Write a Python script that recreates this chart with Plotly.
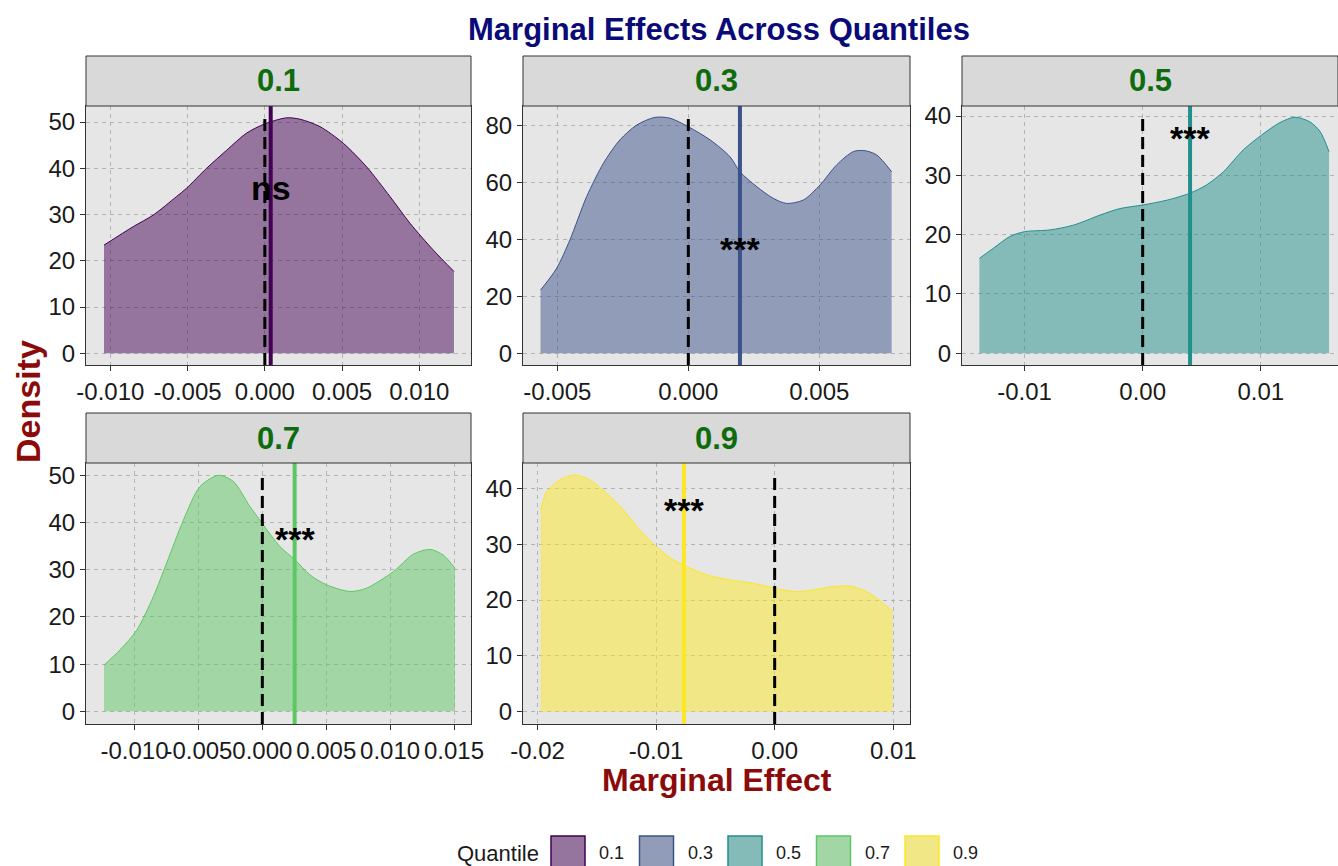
import plotly.graph_objects as go

W, H = 1338, 866
FONT = "Liberation Sans, Arial, sans-serif"

quantiles = ["0.1", "0.3", "0.5", "0.7", "0.9"]
colors = ["#440154", "#3B528B", "#21908C", "#5DC863", "#FDE725"]

# Kernel density estimates of the marginal effect, one per quantile
q01_x = [-0.01041, -0.00851, -0.00722, -0.00571, -0.00506, -0.00377, -0.00247, -0.00118, 0.0,
         0.00141, 0.00228, 0.00357, 0.00508, 0.00659, 0.00810, 0.00940, 0.01091, 0.01224]
q01_y = [23.4, 27.4, 29.9, 33.9, 35.7, 40.0, 43.9, 47.6, 49.6,
         50.9, 50.6, 49.0, 45.4, 40.3, 33.9, 28.1, 22.3, 17.7]

q03_x = [-0.00564, -0.00503, -0.00452, -0.00388, -0.00324, -0.00261, -0.00197, -0.00127, -0.00070,
         0.0, 0.00083, 0.00159, 0.00197, 0.00261, 0.00324, 0.00375, 0.00439, 0.00503, 0.00566,
         0.00630, 0.00674, 0.00719, 0.00776]
q03_y = [22.2, 29.8, 39.8, 55.0, 66.7, 74.9, 80.1, 82.8, 82.5,
         79.5, 74.9, 69.0, 63.7, 58.5, 54.4, 52.6, 53.8, 59.1, 66.1,
         70.8, 71.1, 69.6, 63.7]

q05_x = [-0.01382, -0.01264, -0.01123, -0.0100, -0.00784, -0.00587, -0.00361, -0.00192, 0.0,
         0.00203, 0.00401, 0.00542, 0.00683, 0.00852, 0.01007, 0.01162, 0.01289, 0.01416,
         0.01501, 0.01577]
q05_y = [16.0, 17.7, 19.7, 20.5, 20.8, 21.6, 23.3, 24.4, 25.0,
         25.8, 27.0, 28.4, 30.6, 34.3, 36.8, 38.9, 39.8, 39.0,
         37.4, 34.0]

q07_x = [-0.01239, -0.01114, -0.00983, -0.00853, -0.00749, -0.00618, -0.00488, -0.00344, -0.00227,
         -0.00097, 0.0, 0.00138, 0.00256, 0.00373, 0.00503, 0.00686, 0.00816, 0.01025, 0.01182,
         0.01312, 0.01416, 0.01508]
q07_y = [9.8, 13.0, 17.2, 24.3, 31.4, 40.5, 47.6, 50.0, 48.7,
         43.4, 39.8, 34.9, 32.1, 28.9, 26.8, 25.4, 26.1, 29.6, 33.3,
         34.3, 33.1, 30.3]

q09_x = [-0.01974, -0.01923, -0.01811, -0.01684, -0.01558, -0.01417, -0.01276, -0.01135, -0.01001,
         -0.00855, -0.00742, -0.00574, -0.00377, -0.00180, 0.0, 0.00186, 0.00326, 0.00495,
         0.00635, 0.00776, 0.00917, 0.00995]
q09_y = [36.1, 39.4, 41.5, 42.4, 41.5, 39.1, 36.1, 32.5, 29.6,
         27.2, 26.0, 24.5, 23.6, 23.0, 22.1, 21.5, 21.8, 22.4,
         22.5, 21.5, 19.4, 17.9]

density_x = [q01_x, q03_x, q05_x, q07_x, q09_x]
density_y = [q01_y, q03_y, q05_y, q07_y, q09_y]

# Mean marginal effect and its significance code
means = [0.00038, 0.00197, 0.00401, 0.00253, -0.00765]
sig_labels = ["ns", "***", "***", "***", "***"]
sig_label_y = [35.0, 37.4, 36.6, 37.0, 36.4]

# Axis ticks per facet
x_tickvals = [
    [-0.010, -0.005, 0.000, 0.005, 0.010],
    [-0.005, 0.000, 0.005],
    [-0.01, 0.00, 0.01],
    [-0.010, -0.005, 0.000, 0.005, 0.010, 0.015],
    [-0.02, -0.01, 0.00, 0.01],
]
x_decimals = [3, 3, 2, 3, 2]
y_tickvals = [
    [0, 10, 20, 30, 40, 50],
    [0, 20, 40, 60, 80],
    [0, 10, 20, 30, 40],
    [0, 10, 20, 30, 40, 50],
    [0, 10, 20, 30, 40],
]
x_ranges = [(-0.011575, 0.013344), (-0.006310, 0.008461), (-0.015289, 0.016529),
            (-0.013797, 0.016328), (-0.021225, 0.011413)]
y_ranges = [(-2.52, 53.46), (-4.09, 86.78), (-1.97, 41.69), (-2.68, 52.61), (-2.21, 44.54)]

# Facet panel boxes in pixels: left, right, top, bottom
panel_px = [(86, 471, 106, 365), (523, 910, 106, 365), (962, 1338, 106, 365),
            (86, 471, 463, 724), (523, 910, 463, 724)]
STRIP_H = 50

PANEL_BG = "#E6E6E6"
STRIP_BG = "#D9D9D9"
BORDER = "#333333"
GRID = "#B3B3B3"
TICK_FONT = dict(family=FONT, size=24, color="#1A1A1A")


def rgba(hex_color, a):
    h = hex_color.lstrip("#")
    r, g, b = int(h[0:2], 16), int(h[2:4], 16), int(h[4:6], 16)
    return f"rgba({r},{g},{b},{a})"


def fmt_tick(v, d):
    s = f"{v:.{d}f}"
    if s.startswith("-") and float(s) == 0:
        s = s[1:]
    return s


fig = go.Figure()
shapes = []
annotations = []

for i, q in enumerate(quantiles):
    n = i + 1
    xa = "x" if n == 1 else f"x{n}"
    ya = "y" if n == 1 else f"y{n}"
    xkey = "xaxis" if n == 1 else f"xaxis{n}"
    ykey = "yaxis" if n == 1 else f"yaxis{n}"
    left, right, top, bottom = panel_px[i]

    fig.add_trace(go.Scatter(
        x=density_x[i], y=density_y[i], xaxis=xa, yaxis=ya,
        mode="lines", line=dict(color=colors[i], width=1, shape="spline", smoothing=0.8),
        fill="tozeroy", fillcolor=rgba(colors[i], 0.5),
        showlegend=False, hoverinfo="skip",
    ))

    fig.layout[xkey] = dict(
        domain=[left / W, right / W], anchor=ya, range=list(x_ranges[i]),
        tickvals=x_tickvals[i],
        ticktext=[fmt_tick(v, x_decimals[i]) for v in x_tickvals[i]],
        tickangle=0, ticks="outside", ticklen=5, tickwidth=1, tickcolor=BORDER,
        tickfont=TICK_FONT, automargin=False,
        showgrid=True, gridcolor=GRID, griddash="4px,4px", gridwidth=1,
        zeroline=False, showline=True, linecolor=BORDER, linewidth=1, mirror=True,
    )
    fig.layout[ykey] = dict(
        domain=[1 - bottom / H, 1 - top / H], anchor=xa, range=list(y_ranges[i]),
        tickvals=y_tickvals[i],
        ticks="outside", ticklen=5, tickwidth=1, tickcolor=BORDER,
        tickfont=TICK_FONT, automargin=False,
        showgrid=True, gridcolor=GRID, griddash="4px,4px", gridwidth=1,
        zeroline=False, showline=True, linecolor=BORDER, linewidth=1, mirror=True,
    )

    # Zero reference line, up to the density peak
    shapes.append(dict(
        type="line", xref=xa, yref=ya, x0=0, x1=0,
        y0=y_ranges[i][0], y1=max(density_y[i]),
        line=dict(color="black", width=3, dash="12px,6px"), layer="above",
    ))
    # Mean marginal effect
    shapes.append(dict(
        type="line", xref=xa, yref=f"{ya} domain", x0=means[i], x1=means[i], y0=0, y1=1,
        line=dict(color=colors[i], width=4), layer="above",
    ))
    # Facet strip
    shapes.append(dict(
        type="rect", xref="paper", yref="paper",
        x0=left / W, x1=right / W, y0=1 - top / H, y1=1 - (top - STRIP_H) / H,
        fillcolor=STRIP_BG, line=dict(color=BORDER, width=1), layer="above",
    ))
    annotations.append(dict(
        xref="paper", yref="paper", x=(left + right) / 2 / W, y=1 - (top - STRIP_H / 2) / H,
        text=f"<b>{q}</b>", showarrow=False, xanchor="center", yanchor="middle",
        font=dict(family=FONT, size=31, color="#0E6B0E"),
    ))
    # Significance code at the mean
    annotations.append(dict(
        xref=xa, yref=ya, x=means[i], y=sig_label_y[i],
        text=f"<b>{sig_labels[i]}</b>", showarrow=False, xanchor="center", yanchor="middle",
        yshift=-2 if sig_labels[i].startswith("*") else 3,
        font=dict(family=FONT, size=34, color="black"),
    ))

# Titles
annotations.append(dict(
    xref="paper", yref="paper", x=719 / W, y=1 - 29 / H,
    text="<b>Marginal Effects Across Quantiles</b>", showarrow=False,
    xanchor="center", yanchor="middle",
    font=dict(family=FONT, size=31, color="#0A0A78"),
))
annotations.append(dict(
    xref="paper", yref="paper", x=717 / W, y=1 - 780 / H,
    text="<b>Marginal Effect</b>", showarrow=False,
    xanchor="center", yanchor="middle",
    font=dict(family=FONT, size=32, color="#8B0A0A"),
))
annotations.append(dict(
    xref="paper", yref="paper", x=28 / W, y=1 - 402 / H,
    text="<b>Density</b>", showarrow=False, textangle=-90,
    xanchor="center", yanchor="middle",
    font=dict(family=FONT, size=34, color="#8B0A0A"),
))

# Legend keys
LEG_Y0, LEG_Y1 = 836, 868
annotations.append(dict(
    xref="paper", yref="paper", x=541 / W, y=1 - 853 / H,
    text="Quantile", showarrow=False, xanchor="right", yanchor="middle",
    font=dict(family=FONT, size=22, color="#1A1A1A"),
))
for i, q in enumerate(quantiles):
    x0 = 551 + i * 88.5
    shapes.append(dict(
        type="rect", xref="paper", yref="paper",
        x0=x0 / W, x1=(x0 + 34) / W, y0=1 - LEG_Y1 / H, y1=1 - LEG_Y0 / H,
        fillcolor=PANEL_BG, line=dict(width=0),
    ))
    shapes.append(dict(
        type="rect", xref="paper", yref="paper",
        x0=x0 / W, x1=(x0 + 34) / W, y0=1 - LEG_Y1 / H, y1=1 - LEG_Y0 / H,
        fillcolor=rgba(colors[i], 0.5), line=dict(color=colors[i], width=1.5),
    ))
    annotations.append(dict(
        xref="paper", yref="paper", x=(x0 + 46) / W, y=1 - 853 / H,
        text=q, showarrow=False, xanchor="left", yanchor="middle",
        font=dict(family=FONT, size=18, color="#1A1A1A"),
    ))

fig.update_layout(
    width=W, height=H,
    margin=dict(l=0, r=0, t=0, b=0),
    paper_bgcolor="white", plot_bgcolor=PANEL_BG,
    shapes=shapes, annotations=annotations,
    showlegend=False,
)

fig.write_html("out.html", include_plotlyjs=True, full_html=True,
               config={"displayModeBar": False})
